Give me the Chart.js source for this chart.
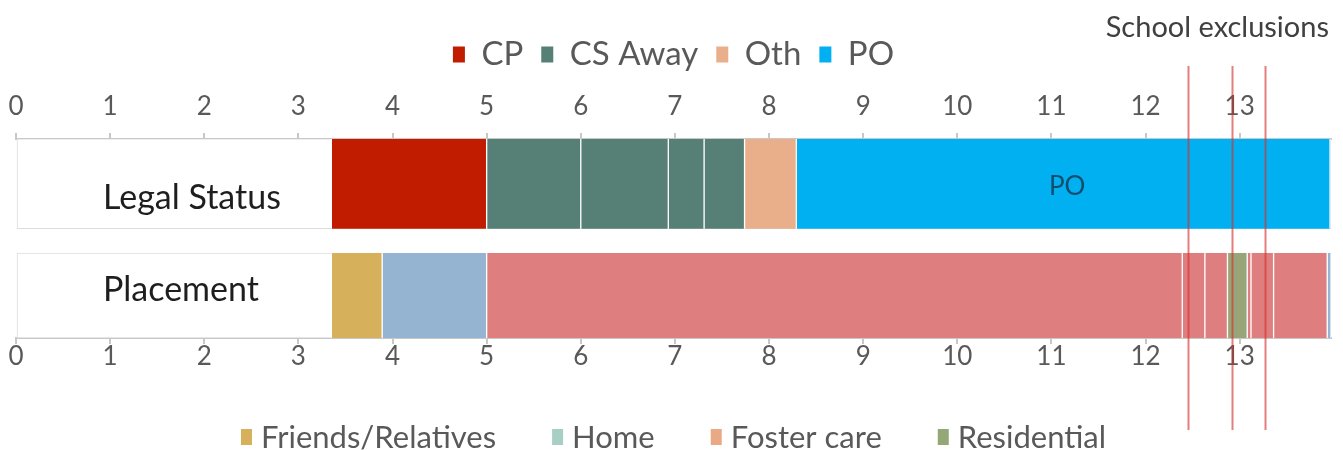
<!DOCTYPE html>
<html>
<head>
<meta charset="utf-8">
<script src="https://cdn.jsdelivr.net/npm/chart.js@4.4.1/dist/chart.umd.min.js"></script>
<style>
  html, body { margin: 0; padding: 0; background: #fff; }
  #wrap { width: 1343px; height: 450px; }
</style>
</head>
<body>
<div id="wrap"><canvas id="timeline" width="1343" height="450"></canvas></div>
<script>
// age in years along the x axis
const axisMax = 13.97;
const ageTicks = [0, 1, 2, 3, 4, 5, 6, 7, 8, 9, 10, 11, 12, 13];
const rowLabels = ['Legal Status', 'Placement'];

const legalKinds = ['CP', 'CS Away', 'Oth', 'PO'];
const legalStarts = [3.35, 5.0, 6.0, 6.93, 7.31, 7.74, 8.29];
const legalEnds = [5.0, 6.0, 6.93, 7.31, 7.74, 8.29, 13.96];
const legalSpanKinds = ['CP', 'CS Away', 'CS Away', 'CS Away', 'CS Away', 'Oth', 'PO'];

const placementKinds = ['Friends/Relatives', 'Home', 'Foster care', 'Residential'];
const placementStarts = [3.35, 3.89, 5.0, 12.39, 12.63, 12.87, 13.08, 13.12, 13.36, 13.93];
const placementEnds = [3.89, 5.0, 12.39, 12.63, 12.87, 13.08, 13.12, 13.36, 13.93, 13.97];
const placementSpanKinds = ['Friends/Relatives', 'Home', 'Foster care', 'Foster care', 'Foster care',
  'Residential', 'Foster care', 'Foster care', 'Foster care', 'Home'];

const exclusionAges = [12.45, 12.92, 13.27];

// colours
const legalColors = { 'CP': '#c11b00', 'CS Away': '#567f75', 'Oth': '#e9ae8a', 'PO': '#00b0f0' };
const placementBarColors = { 'Friends/Relatives': '#d6b05a', 'Home': '#94b4d1', 'Foster care': '#de7e7f', 'Residential': '#98a578' };
const placementLegendColors = { 'Friends/Relatives': '#d6b05a', 'Home': '#a7cfc6', 'Foster care': '#eaa985', 'Residential': '#94a877' };

const rowThickness = [90, 85];
const textGrey = '#595959';
const axisGrey = '#c8c8c8';

function segment(row, start, end, color, kind) {
  return {
    label: kind,
    data: [{ x: [start, end], y: row }],
    backgroundColor: color,
    borderColor: 'rgba(255,255,255,0.75)',
    borderWidth: { left: 1, right: 1, top: 0, bottom: 0 },
    borderSkipped: false,
    barThickness: rowThickness[row],
    grouped: false,
    xAxisID: 'x',
    yAxisID: 'y',
    order: 0
  };
}

const datasets = [];
legalStarts.forEach((s, i) => {
  datasets.push(segment(0, s, legalEnds[i], legalColors[legalSpanKinds[i]], legalSpanKinds[i]));
});
placementStarts.forEach((s, i) => {
  datasets.push(segment(1, s, placementEnds[i], placementBarColors[placementSpanKinds[i]], placementSpanKinds[i]));
});
// light frame round each row, drawn first
rowLabels.forEach((name, row) => {
  datasets.push({
    label: name,
    data: [{ x: [0, axisMax], y: row }],
    backgroundColor: '#ffffff',
    borderColor: '#dcdcdc',
    borderWidth: 1,
    borderSkipped: false,
    barThickness: rowThickness[row],
    grouped: false,
    xAxisID: 'x',
    yAxisID: 'y',
    order: 5
  });
});

const overlay = {
  id: 'overlay',
  afterDatasetsDraw(chart) {
    const ctx = chart.ctx;
    const area = chart.chartArea;
    const y = chart.scales.y;
    ctx.save();
    // row names
    ctx.fillStyle = '#1e1e1e';
    ctx.font = '34px Lato, "Open Sans", sans-serif';
    ctx.textAlign = 'left';
    ctx.textBaseline = 'middle';
    ctx.fillText(rowLabels[0], area.left + 87, y.getPixelForValue(0) + 14);
    ctx.fillText(rowLabels[1], area.left + 87, y.getPixelForValue(1) - 5);
    // PO label in the middle of its bar
    const poIdx = legalSpanKinds.indexOf('PO');
    const bar = chart.getDatasetMeta(poIdx).data[0];
    if (bar) {
      const c = bar.getCenterPoint();
      ctx.fillStyle = '#124d6e';
      ctx.font = '26px Lato, sans-serif';
      ctx.textAlign = 'center';
      ctx.fillText('PO', c.x + 4, c.y + 3);
    }
    ctx.restore();
  },
  afterDraw(chart) {
    const ctx = chart.ctx;
    const area = chart.chartArea;
    const x = chart.scales.x;
    ctx.save();
    // school exclusion markers
    ctx.strokeStyle = 'rgba(214, 45, 45, 0.62)';
    ctx.lineWidth = 2;
    exclusionAges.forEach(a => {
      const px = Math.round(x.getPixelForValue(a)) + 0.5;
      ctx.beginPath();
      ctx.moveTo(px, 66);
      ctx.lineTo(px, 430);
      ctx.stroke();
    });
    ctx.fillStyle = '#404040';
    ctx.font = '29px Lato, sans-serif';
    ctx.textAlign = 'right';
    ctx.textBaseline = 'middle';
    ctx.fillText('School exclusions', area.right - 2, 28);

    // placement legend under the chart
    ctx.font = '31px Lato, sans-serif';
    ctx.textAlign = 'left';
    const boxW = 11, boxH = 16, gap = 9, itemGap = 56;
    const widths = placementKinds.map(k => boxW + gap + ctx.measureText(k).width);
    const total = widths.reduce((a, b) => a + b, 0) + itemGap * (placementKinds.length - 1);
    let cx = (area.left + area.right) / 2 - total / 2;
    const cy = 437;
    placementKinds.forEach((k, i) => {
      ctx.fillStyle = placementLegendColors[k];
      ctx.fillRect(cx, cy - boxH / 2, boxW, boxH);
      ctx.fillStyle = textGrey;
      ctx.fillText(k, cx + boxW + gap, cy + 1);
      cx += widths[i] + itemGap;
    });
    ctx.restore();
  }
};

const tickFont = { size: 26, family: 'Lato, sans-serif', lineHeight: 1 };
const fixTicks = scale => { scale.ticks = ageTicks.map(v => ({ value: v })); };
// keep the tick padding from pushing the plot area inwards
const noSidePadding = scale => { scale.paddingLeft = 0; scale.paddingRight = 0; };

new Chart(document.getElementById('timeline'), {
  type: 'bar',
  data: { datasets: datasets },
  options: {
    indexAxis: 'y',
    responsive: false,
    animation: false,
    layout: { padding: { top: 20, left: 16, right: 12, bottom: 80 } },
    scales: {
      y: { type: 'linear', display: false, offset: false, min: -0.4, max: 1.38, reverse: true },
      x: {
        type: 'linear', position: 'bottom', offset: false, min: 0, max: axisMax,
        afterBuildTicks: fixTicks,
        afterFit: noSidePadding,
        ticks: { font: tickFont, color: textGrey, padding: 0, maxRotation: 0, autoSkip: false },
        grid: { offset: false, drawOnChartArea: false, tickLength: 6, color: axisGrey, lineWidth: 2 },
        border: { color: axisGrey, width: 2 }
      },
      x2: {
        type: 'linear', position: 'top', offset: false, min: 0, max: axisMax,
        afterBuildTicks: fixTicks,
        afterFit: noSidePadding,
        ticks: { font: tickFont, color: textGrey, padding: 13, maxRotation: 0, autoSkip: false },
        grid: { offset: false, drawOnChartArea: false, tickLength: 6, color: axisGrey, lineWidth: 2 },
        border: { color: axisGrey, width: 2 }
      }
    },
    plugins: {
      tooltip: { enabled: false },
      legend: {
        position: 'top',
        onClick: null,
        labels: {
          boxWidth: 12,
          boxHeight: 16,
          padding: 18,
          color: textGrey,
          font: { size: 33, family: 'Lato, sans-serif' },
          generateLabels: () => legalKinds.map(k => ({
            text: k,
            fillStyle: legalColors[k],
            strokeStyle: legalColors[k],
            lineWidth: 0,
            hidden: false,
            fontColor: textGrey
          }))
        }
      }
    }
  },
  plugins: [overlay]
});
</script>
</body>
</html>
